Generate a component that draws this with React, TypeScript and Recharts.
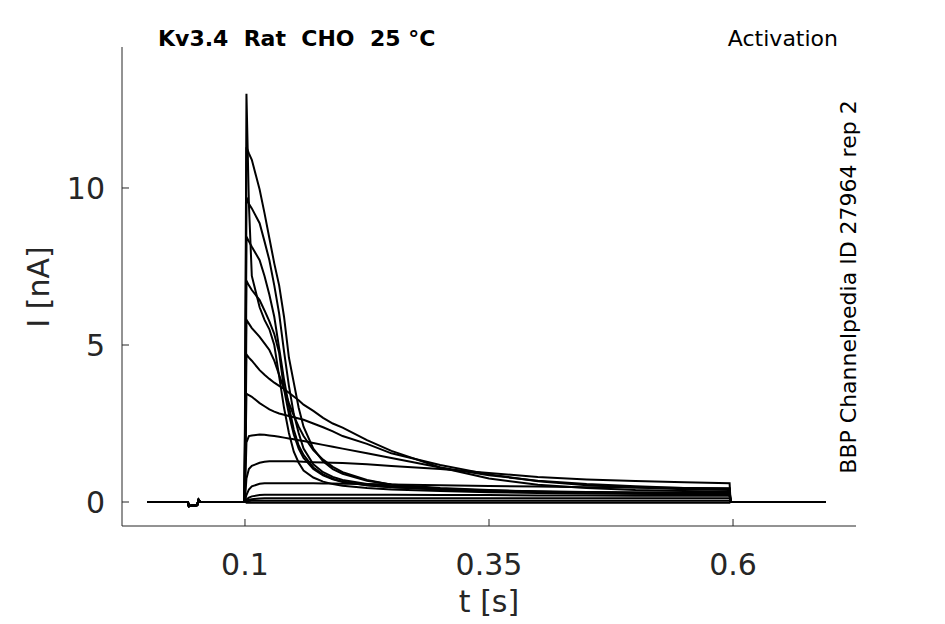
import { CartesianGrid, Line, LineChart, XAxis, YAxis } from "recharts"

// time points (s)
const timePre = [0, 0.0415, 0.0425, 0.051, 0.0525, 0.0545, 0.0995]
const basePre = [0, 0, -0.13, -0.1, 0.07, 0, 0]
const timeStep = [
  0.1005, 0.1015, 0.104, 0.107, 0.115, 0.12, 0.125, 0.13, 0.135, 0.14, 0.145, 0.15, 0.155, 0.16, 0.17, 0.18,
  0.19, 0.2, 0.225, 0.25, 0.3, 0.35, 0.4, 0.45, 0.5, 0.55, 0.5965,
]
const timePost = [0.5975, 0.695]
const basePost = [0, 0]

// current during the step (nA), one array per sweep
const sweep01 = [0, -0.02, -0.02, -0.02, -0.02, -0.02, -0.02, -0.02, -0.02, -0.02, -0.02, -0.02, -0.02, -0.02, -0.02, -0.02, -0.02, -0.02, -0.02, -0.02, -0.02, -0.02, -0.02, -0.02, -0.02, -0.02, -0.02]
const sweep02 = [0.01, 0.02, 0.03, 0.04, 0.04, 0.04, 0.04, 0.04, 0.04, 0.04, 0.04, 0.04, 0.04, 0.04, 0.04, 0.04, 0.04, 0.04, 0.04, 0.04, 0.04, 0.04, 0.04, 0.04, 0.04, 0.04, 0.04]
const sweep03 = [0.02, 0.04, 0.07, 0.09, 0.11, 0.12, 0.12, 0.12, 0.12, 0.12, 0.12, 0.12, 0.12, 0.12, 0.12, 0.12, 0.12, 0.12, 0.12, 0.12, 0.12, 0.12, 0.12, 0.12, 0.12, 0.12, 0.12]
const sweep04 = [0.04, 0.08, 0.14, 0.18, 0.22, 0.23, 0.23, 0.23, 0.23, 0.23, 0.23, 0.23, 0.23, 0.23, 0.23, 0.23, 0.23, 0.23, 0.23, 0.23, 0.22, 0.22, 0.21, 0.21, 0.2, 0.2, 0.2]
const sweep05 = [0.1, 0.22, 0.4, 0.5, 0.58, 0.6, 0.6, 0.6, 0.6, 0.6, 0.6, 0.6, 0.6, 0.6, 0.6, 0.59, 0.59, 0.58, 0.57, 0.56, 0.53, 0.51, 0.49, 0.47, 0.46, 0.45, 0.44]
const sweep06 = [0.3, 0.75, 1.05, 1.15, 1.25, 1.28, 1.3, 1.3, 1.3, 1.3, 1.3, 1.3, 1.29, 1.28, 1.27, 1.26, 1.25, 1.24, 1.2, 1.15, 1.05, 0.92, 0.8, 0.72, 0.67, 0.63, 0.6]
const sweep07 = [0.8, 1.9, 2.1, 2.12, 2.15, 2.14, 2.12, 2.1, 2.08, 2.05, 2.02, 2.0, 1.97, 1.94, 1.88, 1.82, 1.76, 1.7, 1.55, 1.4, 1.1, 0.85, 0.68, 0.57, 0.5, 0.45, 0.42]
const sweep08 = [1.5, 3.45, 3.4, 3.35, 3.15, 3.05, 2.95, 2.88, 2.82, 2.78, 2.74, 2.7, 2.66, 2.62, 2.5, 2.38, 2.25, 2.1, 1.85, 1.55, 1.18, 0.88, 0.66, 0.53, 0.46, 0.41, 0.38]
const sweep09 = [2.0, 4.7, 4.6, 4.5, 4.2, 4.05, 3.92, 3.8, 3.7, 3.6, 3.48, 3.36, 3.24, 3.1, 2.9, 2.68, 2.5, 2.37, 1.97, 1.63, 1.1, 0.75, 0.55, 0.45, 0.38, 0.35, 0.33]
const sweep10 = [2.5, 5.8, 5.68, 5.54, 5.26, 5.05, 4.84, 4.5, 4.05, 3.6, 3.15, 2.75, 2.4, 2.1, 1.65, 1.35, 1.12, 0.95, 0.7, 0.55, 0.42, 0.37, 0.34, 0.32, 0.31, 0.3, 0.3]
const sweep11 = [3.0, 7.05, 6.9, 6.75, 6.43, 6.1, 5.75, 5.35, 4.75, 3.6, 2.8, 2.15, 1.7, 1.4, 1.05, 0.85, 0.72, 0.64, 0.53, 0.47, 0.41, 0.36, 0.33, 0.31, 0.29, 0.28, 0.27]
const sweep12 = [3.5, 8.45, 8.3, 8.13, 7.7, 7.2, 6.6, 5.9, 4.9, 3.9, 3.05, 2.3, 1.8, 1.5, 1.1, 0.88, 0.74, 0.65, 0.53, 0.47, 0.4, 0.35, 0.32, 0.3, 0.28, 0.27, 0.26]
const sweep13 = [4.0, 9.7, 9.5, 9.35, 8.88, 8.3, 7.7, 6.9, 6.0, 4.8, 3.7, 2.8, 2.2, 1.7, 1.2, 0.95, 0.8, 0.7, 0.57, 0.5, 0.41, 0.35, 0.31, 0.29, 0.27, 0.26, 0.25]
const sweep14 = [4.5, 11.3, 11.1, 10.9, 9.95, 9.2, 8.4, 7.6, 6.9, 5.9, 4.6, 3.8, 3.0, 2.4, 1.7, 1.3, 1.05, 0.9, 0.68, 0.56, 0.45, 0.38, 0.33, 0.3, 0.28, 0.27, 0.26]
const sweep15 = [6.0, 13.0, 9.5, 7.2, 6.2, 5.8, 5.5, 5.0, 4.0, 3.0, 2.2, 1.6, 1.25, 1.0, 0.78, 0.65, 0.57, 0.52, 0.45, 0.4, 0.35, 0.31, 0.29, 0.27, 0.26, 0.25, 0.24]

const sweeps = [
  sweep01, sweep02, sweep03, sweep04, sweep05, sweep06, sweep07, sweep08,
  sweep09, sweep10, sweep11, sweep12, sweep13, sweep14, sweep15,
]

const xTicks = [0.1, 0.35, 0.6]
const yTicks = [0, 5, 10]

const times = [...timePre, ...timeStep, ...timePost]
const data = times.map((t, i) => {
  const row: Record<string, number> = { t }
  sweeps.forEach((s, k) => {
    const full = [...basePre, ...s, ...basePost]
    row[`s${k}`] = full[i]
  })
  return row
})

const W = 929
const H = 608
const AXIS = "#262626"

function XTick(props: any) {
  const { x, y, payload } = props
  return (
    <g>
      <line x1={x} y1={y} x2={x} y2={y - 7} stroke={AXIS} strokeWidth={1} />
      <text x={x} y={y + 49} textAnchor="middle" fontSize={30} fill={AXIS} fontFamily="DejaVu Sans">
        {payload.value}
      </text>
    </g>
  )
}

function YTick(props: any) {
  const { x, y, payload } = props
  return (
    <g>
      <line x1={x} y1={y} x2={x + 7} y2={y} stroke={AXIS} strokeWidth={1} />
      <text x={x - 17} y={y + 11} textAnchor="end" fontSize={30} fill={AXIS} fontFamily="DejaVu Sans">
        {payload.value}
      </text>
    </g>
  )
}

export default function App() {
  return (
    <div style={{ position: "relative", width: W, height: H, background: "#fff" }}>
      <LineChart width={W} height={H} data={data} margin={{ top: 39, right: 81, bottom: 60, left: 54 }}>
        <CartesianGrid stroke="none" />
        <XAxis
          dataKey="t"
          type="number"
          domain={[-0.026, 0.726]}
          ticks={xTicks}
          allowDataOverflow
          height={30}
          tickSize={0}
          tickMargin={0}
          tickLine={false}
          axisLine={{ stroke: AXIS, strokeWidth: 1 }}
          tick={<XTick />}
        />
        <YAxis
          type="number"
          domain={[-0.764, 14.49]}
          ticks={yTicks}
          allowDataOverflow
          width={60}
          tickSize={0}
          tickMargin={0}
          tickLine={false}
          axisLine={{ stroke: AXIS, strokeWidth: 1 }}
          tick={<YTick />}
        />
        {sweeps.map((_, k) => (
          <Line
            key={k}
            dataKey={`s${k}`}
            type="linear"
            stroke="#000"
            strokeWidth={2}
            dot={false}
            isAnimationActive={false}
          />
        ))}
      </LineChart>
      <svg
        width={W}
        height={H}
        style={{ position: "absolute", left: 0, top: 0, pointerEvents: "none", overflow: "visible" }}
      >
        <text x={150} y={38} fontSize={22} fontWeight="bold" fontFamily="DejaVu Sans" fill="#000" style={{ whiteSpace: "pre" }}>
          {"Kv3.4  Rat  CHO  25 °C"}
        </text>
        <text x={830} y={38} fontSize={22} textAnchor="end" fontFamily="DejaVu Sans" fill="#000">
          Activation
        </text>
        <text
          x={848}
          y={279}
          fontSize={22}
          textAnchor="middle"
          fontFamily="DejaVu Sans"
          fill="#000"
          transform="rotate(-90 848 279)"
        >
          BBP Channelpedia ID 27964 rep 2
        </text>
        <text x={481} y={604} fontSize={30} textAnchor="middle" fontFamily="DejaVu Sans" fill={AXIS}>
          t [s]
        </text>
        <text
          x={41}
          y={279}
          fontSize={30}
          textAnchor="middle"
          fontFamily="DejaVu Sans"
          fill={AXIS}
          transform="rotate(-90 41 279)"
        >
          I [nA]
        </text>
      </svg>
    </div>
  )
}
